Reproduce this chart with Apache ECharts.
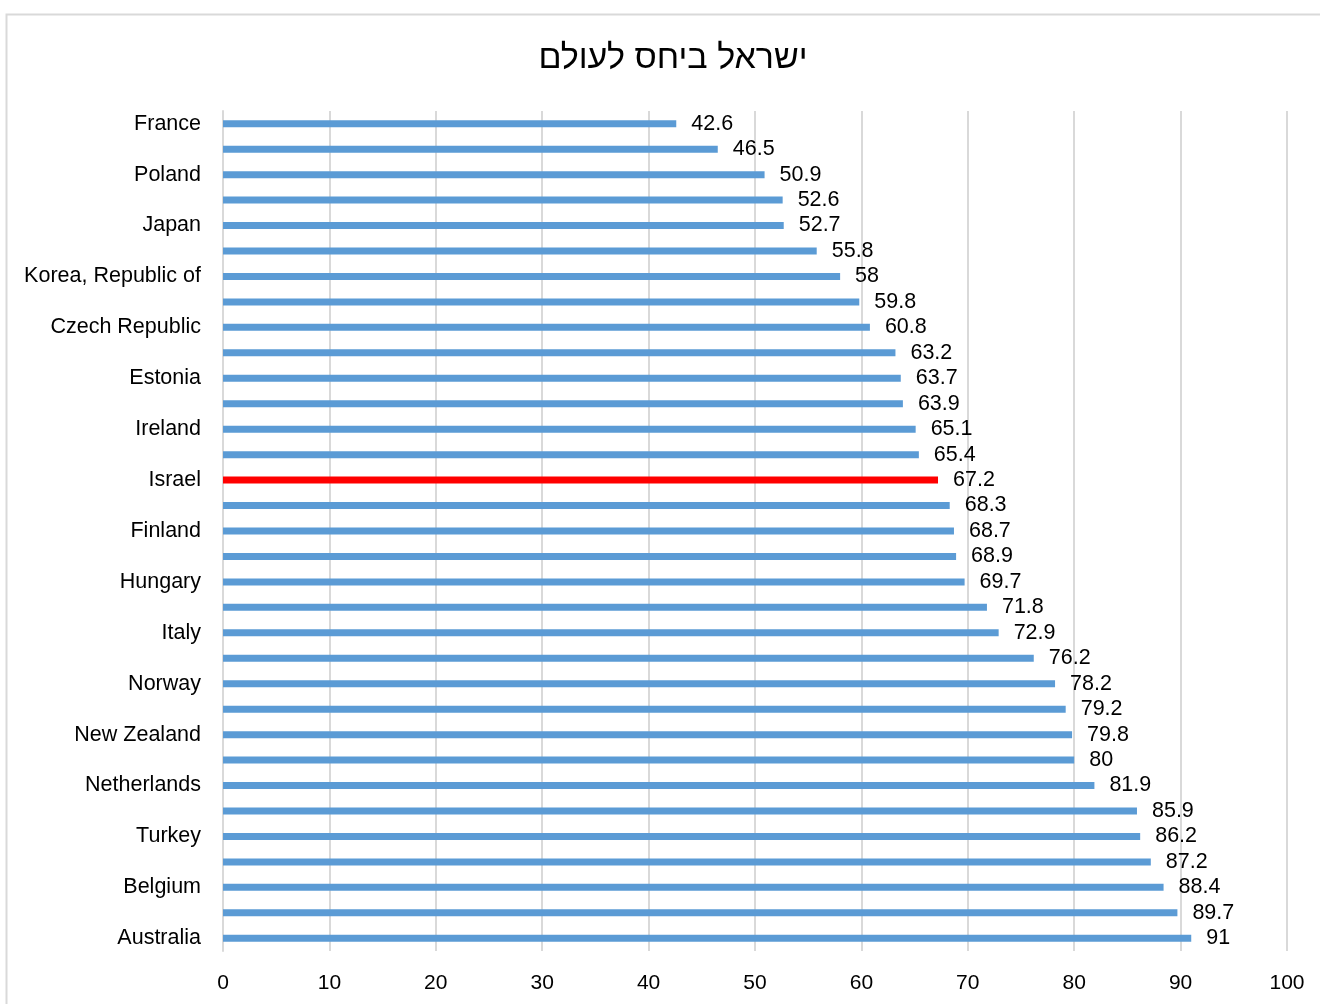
<!DOCTYPE html>
<html><head><meta charset="utf-8">
<script src="https://cdn.jsdelivr.net/npm/echarts@6/dist/echarts.min.js"></script>
<style>html,body{margin:0;padding:0;background:#fff}#c{width:1320px;height:1004px}</style>
</head><body><div id="c"></div>
<script>
const titleText = 'ישראל ביחס לעולם';
const categories = ['France','','Poland','','Japan','','Korea, Republic of','','Czech Republic','','Estonia','','Ireland','','Israel','','Finland','','Hungary','','Italy','','Norway','','New Zealand','','Netherlands','','Turkey','','Belgium','','Australia'];
const values = [42.6,46.5,50.9,52.6,52.7,55.8,58,59.8,60.8,63.2,63.7,63.9,65.1,65.4,67.2,68.3,68.7,68.9,69.7,71.8,72.9,76.2,78.2,79.2,79.8,80,81.9,85.9,86.2,87.2,88.4,89.7,91];
const highlight = 'Israel';
const xTicks = {min:0, max:100, interval:10};

const font = '"Liberation Sans", "DejaVu Sans", sans-serif';
const chart = echarts.init(document.getElementById('c'), null, {renderer:'canvas'});
chart.setOption({
  animation:false,
  backgroundColor:'#fff',
  graphic:[{type:'rect', shape:{x:6.5,y:14.5,width:1340,height:1000}, style:{fill:'none', stroke:'#d9d9d9', lineWidth:2}, silent:true, z:-10}],
  title:{text:titleText, left:668, top:37, textAlign:'center', textStyle:{fontFamily:font, fontSize:34, fontWeight:'normal', color:'#000'}},
  grid:{left:223, right:33, top:111, bottom:53, containLabel:false},
  xAxis:{type:'value', min:xTicks.min, max:xTicks.max, interval:xTicks.interval,
    axisLine:{show:false}, axisTick:{show:false},
    axisLabel:{fontFamily:font, fontSize:21, color:'#000', margin:22},
    splitLine:{lineStyle:{color:'#d9d9d9', width:2}}},
  yAxis:{type:'category', data:categories, inverse:true,
    axisLine:{show:true, lineStyle:{color:'#d9d9d9', width:2}}, axisTick:{show:false},
    axisLabel:{interval:0, fontFamily:font, fontSize:21.5, color:'#000', margin:22, padding:[3,0,0,0]}},
  series:[{type:'bar', barWidth:7,
    data: values.map((v,i)=>({value:v, itemStyle:{color: categories[i]===highlight ? '#ff0000' : '#5b9bd5'}})),
    label:{show:true, position:'right', distance:15, fontFamily:font, fontSize:21.5, color:'#000', padding:[3,0,0,0]}}]
});
</script></body></html>
